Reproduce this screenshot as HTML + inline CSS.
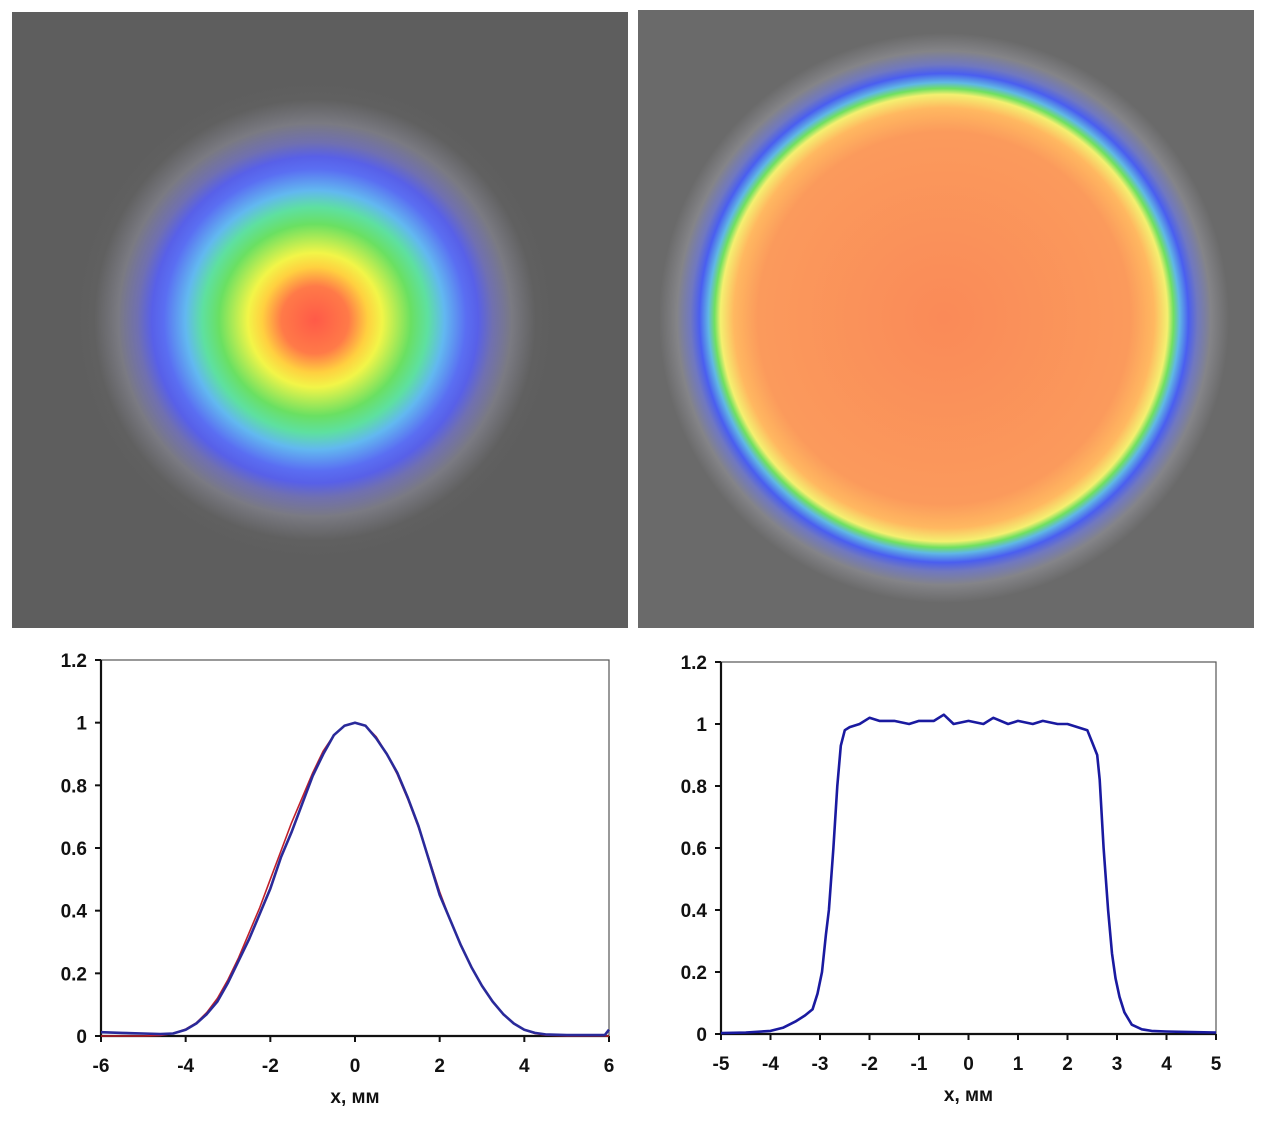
<!DOCTYPE html>
<html><head><meta charset="utf-8">
<style>
html,body{margin:0;padding:0;background:#fff;}
body{width:1268px;height:1121px;overflow:hidden;position:relative;font-family:"Liberation Sans",Arial,sans-serif;}
svg{position:absolute;left:0;top:0;}
text{font-family:"Liberation Sans",Arial,sans-serif;font-weight:bold;font-size:19px;fill:#111;}
</style></head>
<body>
<svg id="root" width="1268" height="1121" viewBox="0 0 1268 1121">
<defs>
<radialGradient id="gauss" gradientUnits="userSpaceOnUse" cx="315" cy="320" r="240">
<stop offset="0" stop-color="#ff5a48"/>
<stop offset="0.14" stop-color="#ff7a48"/>
<stop offset="0.22" stop-color="#ffd040"/>
<stop offset="0.28" stop-color="#f2f548"/>
<stop offset="0.40" stop-color="#6ae062"/>
<stop offset="0.47" stop-color="#5ee0a0"/>
<stop offset="0.54" stop-color="#62b8f0"/>
<stop offset="0.63" stop-color="#5a6ef2"/>
<stop offset="0.68" stop-color="#5860e8"/>
<stop offset="0.74" stop-color="#7070b0"/>
<stop offset="0.82" stop-color="#7a7a82"/>
<stop offset="0.92" stop-color="#606060"/>
<stop offset="1" stop-color="#5e5e5e"/>
</radialGradient>
<radialGradient id="flat" gradientUnits="userSpaceOnUse" cx="944" cy="318" r="300">
<stop offset="0" stop-color="#fa8a58"/>
<stop offset="0.62" stop-color="#fb9a5c"/>
<stop offset="0.70" stop-color="#ffb860"/>
<stop offset="0.745" stop-color="#f4f070"/>
<stop offset="0.765" stop-color="#70e060"/>
<stop offset="0.785" stop-color="#60b8e4"/>
<stop offset="0.815" stop-color="#4a5ef0"/>
<stop offset="0.845" stop-color="#7078c0"/>
<stop offset="0.89" stop-color="#848488"/>
<stop offset="0.95" stop-color="#6a6a6a"/>
<stop offset="1" stop-color="#6a6a6a"/>
</radialGradient>
</defs>
<rect x="12" y="12" width="616" height="616" fill="#5e5e5e"/>
<rect x="12" y="12" width="616" height="616" fill="url(#gauss)"/>
<rect x="638" y="10" width="616" height="618" fill="#6a6a6a"/>
<rect x="638" y="10" width="616" height="618" fill="url(#flat)"/>
<g id="plotL"></g>
<g id="plotR"></g>
</svg>
<script>
// Left chart data (Gaussian profile)
const leftX = [-6,-5.5,-5,-4.6,-4.3,-4,-3.75,-3.5,-3.25,-3,-2.75,-2.5,-2.25,-2,-1.75,-1.5,-1.25,-1,-0.75,-0.5,-0.25,0,0.25,0.5,0.75,1,1.25,1.5,1.75,2,2.25,2.5,2.75,3,3.25,3.5,3.75,4,4.25,4.5,5,5.5,5.9,6];
const leftMeasured = [0.012,0.01,0.008,0.006,0.008,0.02,0.04,0.07,0.11,0.17,0.24,0.31,0.39,0.47,0.57,0.65,0.74,0.83,0.9,0.96,0.99,1.0,0.99,0.95,0.9,0.84,0.76,0.67,0.56,0.45,0.37,0.29,0.22,0.16,0.11,0.07,0.04,0.02,0.01,0.005,0.003,0.003,0.003,0.02];
const leftFit = [0,0,0,0.002,0.008,0.022,0.042,0.075,0.12,0.18,0.25,0.33,0.41,0.5,0.59,0.68,0.76,0.84,0.91,0.96,0.99,1.0,0.99,0.955,0.9,0.835,0.755,0.665,0.565,0.46,0.37,0.29,0.22,0.16,0.11,0.07,0.04,0.02,0.008,0.003,0.0,0,0,0];
const leftXTicks = [-6,-4,-2,0,2,4,6];
const leftYTicks = [0,0.2,0.4,0.6,0.8,1,1.2];
const leftYLabels = ["0","0.2","0.4","0.6","0.8","1","1.2"];
// Right chart data (flat-top profile)
const rightX = [-5,-4.5,-4,-3.75,-3.5,-3.3,-3.15,-3.05,-2.96,-2.88,-2.82,-2.73,-2.65,-2.58,-2.5,-2.4,-2.2,-2,-1.8,-1.5,-1.2,-1,-0.7,-0.5,-0.3,0,0.3,0.5,0.8,1,1.3,1.5,1.8,2,2.2,2.4,2.5,2.6,2.65,2.73,2.82,2.9,2.97,3.05,3.15,3.3,3.5,3.7,4,4.5,5];
const rightY = [0.003,0.005,0.01,0.02,0.04,0.06,0.08,0.13,0.2,0.32,0.4,0.6,0.8,0.93,0.98,0.99,1.0,1.02,1.01,1.01,1.0,1.01,1.01,1.03,1.0,1.01,1.0,1.02,1.0,1.01,1.0,1.01,1.0,1.0,0.99,0.98,0.94,0.9,0.82,0.6,0.4,0.26,0.18,0.12,0.07,0.03,0.015,0.01,0.008,0.006,0.005];
const rightXTicks = [-5,-4,-3,-2,-1,0,1,2,3,4,5];
const rightYTicks = [0,0.2,0.4,0.6,0.8,1,1.2];
const rightYLabels = ["0","0.2","0.4","0.6","0.8","1","1.2"];

const NS = "http://www.w3.org/2000/svg";
function mk(parent, tag, attrs){
  const e = document.createElementNS(NS, tag);
  for (const k in attrs) e.setAttribute(k, attrs[k]);
  parent.appendChild(e);
  return e;
}
function drawChart(g, cfg){
  const sx = v => cfg.x0 + (v - cfg.xmin) / (cfg.xmax - cfg.xmin) * (cfg.x1 - cfg.x0);
  const sy = v => cfg.y0 - (v - 0) / 1.2 * (cfg.y0 - cfg.y1);
  const frame = mk(g, 'rect', {x:cfg.x0, y:cfg.y1, width:cfg.x1-cfg.x0, height:cfg.y0-cfg.y1, fill:'#fff', stroke:'#555', 'stroke-width':1.2});
  
  
  const ya = mk(g, 'line', {x1:cfg.x0, y1:cfg.y1, x2:cfg.x0, y2:cfg.y0, stroke:'#111', 'stroke-width':2.2});
  
  
  const xa = mk(g, 'line', {x1:cfg.x0, y1:cfg.y0, x2:cfg.x1, y2:cfg.y0, stroke:'#111', 'stroke-width':2.2});
  
  
  cfg.yTicks.forEach((v, i) => {
    const y = sy(v);
    const t = mk(g, 'line', {x1:cfg.x0-6, y1:y, x2:cfg.x0, y2:y, stroke:'#111', 'stroke-width':2});
    
    
    const l = mk(g, 'text', {x:cfg.x0-14, y:y+7, 'text-anchor':'end'});
    l.textContent = cfg.yLabels[i];
    
    
  });
  cfg.xTicks.forEach(v => {
    const x = sx(v);
    const t = mk(g, 'line', {x1:x, y1:cfg.y0, x2:x, y2:cfg.y0+6, stroke:'#111', 'stroke-width':2});
    
    
    const l = mk(g, 'text', {x:x, y:cfg.y0+36, 'text-anchor':'middle'});
    l.textContent = String(v);
    
    
  });
  const title = mk(g, 'text', {x:(cfg.x0+cfg.x1)/2, y:cfg.y0+67, 'text-anchor':'middle', 'font-size':'18'});
  title.textContent = 'x, мм';
  
  
  cfg.series.forEach(s => {
    const pts = cfg.xs.map((xv, i) => sx(xv).toFixed(1) + ',' + sy(s.ys[i]).toFixed(1)).join(' ');
    const p = mk(g, 'polyline', {points:pts, fill:'none', stroke:s.color, 'stroke-width':s.w, 'stroke-linejoin':'round'});
    
    
  });
}
drawChart(document.getElementById('plotL'), {x0:101, x1:609, y0:1036, y1:660, xmin:-6, xmax:6,
  xTicks:leftXTicks, yTicks:leftYTicks, yLabels:leftYLabels, xs:leftX,
  series:[{ys:leftFit, color:'#c0202a', w:1.6, name:'gaussian-fit-line'},{ys:leftMeasured, color:'#2a2a9a', w:2.6, name:'gaussian-measured-line'}]});
drawChart(document.getElementById('plotR'), {x0:721, x1:1216, y0:1034, y1:662, xmin:-5, xmax:5,
  xTicks:rightXTicks, yTicks:rightYTicks, yLabels:rightYLabels, xs:rightX,
  series:[{ys:rightY, color:'#1a1aa0', w:2.6, name:'flat-top-measured-line'}]});
</script>
</body></html>
